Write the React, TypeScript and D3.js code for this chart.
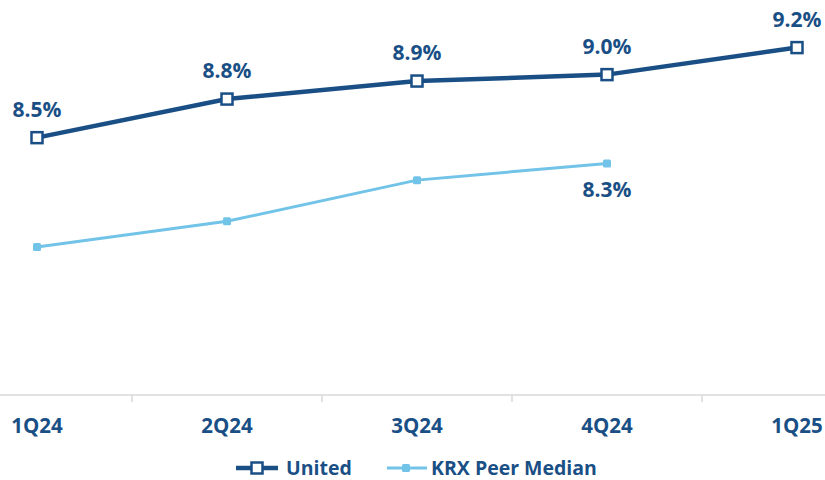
import React from "react";
import * as d3 from "d3";

const categories = ["1Q24", "2Q24", "3Q24", "4Q24", "1Q25"];
const unitedValues: (number | null)[] = [8.5, 8.8, 8.94, 8.99, 9.2];
const peerValues: (number | null)[] = [7.65, 7.85, 8.17, 8.3, null];
const unitedLabels = ["8.5%", "8.8%", "8.9%", "9.0%", "9.2%"];
const peerLabels: (string | null)[] = [null, null, null, "8.3%", null];

const W = 825;
const H = 480;
const DARK = "#1A4F86";
const LIGHT = "#72C3E8";
const FONT = "'Open Sans', 'Noto Sans', sans-serif";

export default function App() {
  const x = d3.scaleBand<string>().domain(categories).range([-58, 892]).padding(0);
  const cx = (c: string) => (x(c) as number) + x.bandwidth() / 2;
  const y = d3.scaleLinear().domain([6.5, 9.5]).range([395, 9]);

  const line = d3
    .line<number | null>()
    .defined((d) => d != null)
    .x((_, i) => cx(categories[i]))
    .y((d) => y(d as number));

  const tickXs = categories.slice(1).map((c) => x(c) as number);

  return (
    <svg
      width={W}
      height={H}
      style={{ position: "absolute", left: 0, top: 0, background: "#fff" }}
      fontFamily={FONT}
    >
      <line x1={0} x2={W} y1={395} y2={395} stroke="#D9D9D9" strokeWidth={1.5} />
      {tickXs.map((t, i) => (
        <line key={i} x1={t} x2={t} y1={395} y2={402} stroke="#D9D9D9" strokeWidth={1.5} />
      ))}
      {categories.map((c) => (
        <text
          key={c}
          x={cx(c)}
          y={433}
          textAnchor="middle"
          fontSize={20.5}
          fontWeight={700}
          fill={DARK}
        >
          {c}
        </text>
      ))}

      <path d={line(peerValues) || ""} fill="none" stroke={LIGHT} strokeWidth={3} />
      {peerValues.map((v, i) =>
        v == null ? null : (
          <rect
            key={i}
            x={cx(categories[i]) - 4}
            y={y(v) - 4}
            width={8}
            height={8}
            rx={1.5}
            fill={LIGHT}
          />
        )
      )}
      {peerValues.map((v, i) =>
        v == null || !peerLabels[i] ? null : (
          <text
            key={i}
            x={cx(categories[i])}
            y={y(v) + 34}
            textAnchor="middle"
            fontSize={21}
            fontWeight={700}
            fill={DARK}
          >
            {peerLabels[i]}
          </text>
        )
      )}

      <path d={line(unitedValues) || ""} fill="none" stroke={DARK} strokeWidth={4.5} />
      {unitedValues.map((v, i) =>
        v == null ? null : (
          <rect
            key={i}
            x={cx(categories[i]) - 5.5}
            y={y(v) - 5.5}
            width={11}
            height={11}
            fill="#fff"
            stroke={DARK}
            strokeWidth={2.5}
          />
        )
      )}
      {unitedValues.map((v, i) =>
        v == null ? null : (
          <text
            key={i}
            x={cx(categories[i])}
            y={y(v) - 21}
            textAnchor="middle"
            fontSize={21}
            fontWeight={700}
            fill={DARK}
          >
            {unitedLabels[i]}
          </text>
        )
      )}

      <g transform="translate(0,468)">
        <line x1={236} x2={278} y1={0} y2={0} stroke={DARK} strokeWidth={4.5} />
        <rect x={251.5} y={-5.5} width={11} height={11} fill="#fff" stroke={DARK} strokeWidth={2.5} />
        <text x={286} y={7} fontSize={19.5} fontWeight={700} fill={DARK}>
          United
        </text>
        <line x1={387} x2={427} y1={0} y2={0} stroke={LIGHT} strokeWidth={3} />
        <rect x={402} y={-4} width={8} height={8} rx={1.5} fill={LIGHT} />
        <text x={431} y={7} fontSize={19.5} fontWeight={700} fill={DARK}>
          KRX Peer Median
        </text>
      </g>
    </svg>
  );
}
